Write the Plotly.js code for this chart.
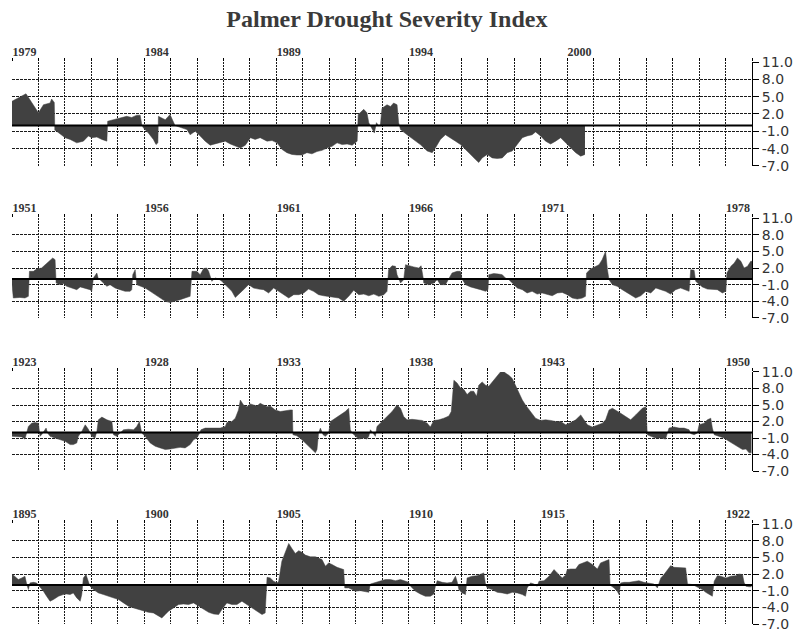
<!DOCTYPE html>
<html>
<head>
<meta charset="utf-8">
<script src="https://cdn.plot.ly/plotly-3.0.1.min.js"></script>
<style>html,body{margin:0;padding:0;background:#fff}</style>
</head>
<body>
<div id="chart" style="width:796px;height:633px"></div>
<script>
// Panel start years (each panel spans 28 years)
const startYears = [1979, 1951, 1923, 1895];

// Year labels per panel: [offset from start, label]
const labelOffsets = [
  [0, 5, 10, 15, 21],
  [0, 5, 10, 15, 20, 27],
  [0, 5, 10, 15, 20, 27],
  [0, 5, 10, 15, 20, 27]
];
const labelTexts = [
  ["1979", "1984", "1989", "1994", "2000"],
  ["1951", "1956", "1961", "1966", "1971", "1978"],
  ["1923", "1928", "1933", "1938", "1943", "1950"],
  ["1895", "1900", "1905", "1910", "1915", "1922"]
];

// Y ticks
const yTickVals = [11, 8, 5, 2, -1, -4, -7];
const yTickText = ["11.0", "8.0", "5.0", "2.0", "-1.0", "-4.0", "-7.0"];

// PDSI, 1979-2000: years since 1979, index value
const t1979 = [0.00,0.49,0.53,1.00,1.19,1.44,1.50,1.60,1.62,1.69,2.01,2.20,2.45,2.70,2.89,3.02,3.21,3.40,3.59,3.62,3.84,4.09,4.34,4.53,4.72,4.85,4.91,4.97,5.16,5.35,5.45,5.52,5.54,5.67,5.80,5.98,6.09,6.17,6.36,6.62,6.74,6.93,7.12,7.31,7.50,7.69,7.88,8.07,8.26,8.45,8.64,8.83,9.02,9.20,9.39,9.65,9.84,10.03,10.21,10.40,10.59,10.78,10.97,11.16,11.35,11.54,11.73,11.92,12.11,12.30,12.49,12.68,12.87,13.06,13.10,13.31,13.43,13.50,13.62,13.71,13.79,13.88,13.94,14.00,14.19,14.32,14.44,14.57,14.63,14.70,14.95,15.20,15.45,15.71,15.90,16.02,16.21,16.40,16.59,16.78,16.97,17.16,17.35,17.54,17.66,17.79,17.98,18.17,18.36,18.55,18.74,18.93,19.12,19.31,19.49,19.68,19.81,20.00,20.19,20.38,20.57,20.76,20.95,21.14,21.33,21.52,21.64,21.68];
const v1979 = [4.2,5.3,5.5,2.2,3.6,3.9,4.6,4.0,-0.8,-1.0,-2.1,-2.4,-3.0,-2.7,-1.8,-2.1,-2.0,-2.4,-2.7,0.75,1.0,1.3,1.6,1.4,1.8,1.8,0.2,-0.4,-1.3,-2.4,-3.3,-3.0,1.6,1.3,1.0,1.9,0.75,0.0,-0.3,-0.7,-1.6,-1.0,-1.8,-2.7,-3.4,-3.2,-3.0,-2.7,-3.2,-3.6,-3.9,-3.4,-2.1,-2.4,-2.1,-2.7,-2.6,-3.0,-4.1,-4.7,-5.0,-5.1,-5.1,-4.7,-4.9,-4.5,-4.3,-3.9,-3.6,-3.0,-3.3,-3.2,-3.4,-2.7,1.9,2.8,2.2,0.5,-0.7,-1.3,0.5,-0.1,0.2,3.0,3.6,3.3,3.9,3.6,0.5,-0.7,-1.6,-2.4,-3.3,-4.4,-4.7,-3.9,-2.4,-1.6,-2.1,-2.7,-3.3,-4.1,-5.0,-5.9,-6.4,-5.6,-5.0,-5.6,-5.7,-5.6,-4.7,-4.4,-3.3,-2.1,-1.8,-1.6,-1.1,-1.8,-2.7,-3.2,-2.7,-2.1,-3.0,-3.9,-4.7,-5.3,-5.0,-5.0];

// PDSI, 1951-1978
const t1951 = [0.00,0.05,0.30,0.49,0.62,0.66,0.81,0.93,1.12,1.25,1.38,1.54,1.63,1.67,1.82,1.94,2.07,2.26,2.45,2.58,2.77,2.95,3.02,3.08,3.21,3.27,3.33,3.46,3.59,3.71,3.90,4.09,4.28,4.47,4.53,4.57,4.66,4.72,4.85,5.04,5.23,5.42,5.61,5.80,5.98,6.17,6.36,6.55,6.74,6.81,6.99,7.12,7.25,7.37,7.44,7.56,7.69,7.82,7.94,8.13,8.32,8.45,8.57,8.76,8.95,9.14,9.33,9.52,9.71,9.90,10.09,10.28,10.47,10.66,10.85,11.04,11.22,11.41,11.60,11.79,11.98,12.17,12.36,12.55,12.74,12.93,13.12,13.31,13.50,13.69,13.88,14.07,14.19,14.25,14.38,14.51,14.57,14.70,14.82,14.89,15.01,15.20,15.39,15.48,15.56,15.58,15.77,15.96,16.09,16.21,16.40,16.53,16.65,16.84,16.97,17.03,17.16,17.35,17.54,17.73,17.92,18.01,18.04,18.23,18.42,18.55,18.67,18.80,18.93,19.12,19.31,19.49,19.68,19.87,20.06,20.25,20.44,20.63,20.82,21.01,21.20,21.39,21.58,21.70,21.74,21.89,22.08,22.21,22.33,22.46,22.53,22.59,22.72,22.90,23.09,23.28,23.47,23.60,23.79,23.98,24.17,24.36,24.55,24.73,24.92,25.11,25.30,25.49,25.62,25.68,25.81,25.87,26.00,26.12,26.31,26.50,26.69,26.88,27.01,27.05,27.20,27.33,27.45,27.58,27.70,27.83,27.95,28.00];
const v1951 = [-1.0,-3.4,-3.3,-3.4,-3.1,1.4,1.4,1.8,2.0,2.6,3.2,3.8,3.5,-0.7,-1.0,-0.8,-1.3,-1.6,-1.9,-1.4,-1.6,-1.9,-2.2,0.2,1.1,0.0,-0.1,-0.7,-1.3,-1.0,-1.6,-1.9,-2.2,-2.2,-1.9,0.8,1.7,-1.0,-1.3,-1.6,-2.2,-2.8,-3.4,-4.0,-4.2,-4.0,-3.7,-3.4,-3.1,1.4,1.4,0.8,1.9,2.0,1.4,-0.4,0.2,0.0,-0.4,-1.3,-2.2,-3.3,-2.8,-1.9,-1.0,-1.6,-1.8,-1.9,-2.5,-1.6,-2.2,-2.8,-3.4,-2.8,-2.8,-2.5,-1.8,-2.2,-2.8,-3.0,-3.1,-3.3,-3.4,-4.0,-3.1,-2.0,-2.8,-2.7,-3.0,-2.7,-3.1,-2.8,-2.2,1.7,2.4,2.3,0.8,-0.7,-0.1,2.6,2.4,2.2,2.0,2.4,0.2,-0.7,-1.0,-0.7,-0.1,-1.0,-1.0,0.2,1.1,1.4,1.4,0.0,-1.0,-1.4,-1.6,-1.9,-2.2,-1.9,0.8,1.0,0.9,0.8,0.2,-0.1,-0.7,-1.6,-1.9,-2.5,-2.2,-2.7,-2.5,-2.8,-3.0,-2.5,-2.4,-2.8,-3.4,-3.6,-3.4,-3.1,1.1,1.8,2.3,2.6,3.5,5.0,1.7,-0.1,-1.0,-1.3,-1.9,-2.5,-3.1,-3.4,-3.0,-2.2,-2.5,-1.6,-1.9,-2.2,-2.7,-1.9,-1.6,-1.9,-2.2,1.7,1.6,-0.4,-1.0,-1.4,-1.8,-1.9,-1.9,-2.5,-2.2,1.1,2.3,2.9,3.8,3.2,2.0,2.3,3.2,3.2];

// PDSI, 1923-1950
const t1923 = [0.00,0.18,0.37,0.49,0.56,0.62,0.74,0.87,1.00,1.06,1.12,1.19,1.29,1.35,1.44,1.63,1.82,2.01,2.20,2.32,2.45,2.51,2.64,2.77,2.89,3.02,3.14,3.21,3.27,3.40,3.59,3.78,3.84,3.96,4.09,4.22,4.41,4.60,4.72,4.82,4.91,5.04,5.23,5.42,5.61,5.80,5.98,6.17,6.36,6.55,6.74,6.87,6.99,7.10,7.15,7.31,7.50,7.69,7.88,8.07,8.13,8.32,8.45,8.57,8.64,8.76,8.89,9.02,9.14,9.27,9.39,9.52,9.65,9.77,9.96,10.15,10.34,10.53,10.61,10.63,10.78,10.97,11.16,11.35,11.48,11.54,11.60,11.67,11.77,11.86,11.98,12.05,12.23,12.42,12.61,12.74,12.80,12.87,12.99,13.12,13.31,13.43,13.50,13.56,13.66,13.75,13.81,14.00,14.19,14.38,14.57,14.70,14.82,14.95,15.14,15.33,15.52,15.71,15.83,15.96,16.15,16.34,16.53,16.62,16.72,16.84,16.97,17.10,17.22,17.35,17.47,17.58,17.66,17.79,17.92,18.04,18.23,18.42,18.55,18.67,18.80,18.93,19.05,19.18,19.31,19.43,19.62,19.81,20.00,20.19,20.38,20.57,20.76,20.95,21.14,21.33,21.52,21.64,21.77,21.96,22.15,22.34,22.46,22.59,22.72,22.84,23.03,23.22,23.41,23.60,23.72,23.85,23.98,24.04,24.17,24.36,24.55,24.73,24.80,24.86,25.05,25.24,25.43,25.62,25.68,25.81,25.93,26.00,26.19,26.31,26.44,26.50,26.57,26.76,26.94,27.13,27.32,27.51,27.64,27.77,27.89,27.98];
const v1923 = [-0.7,-0.7,-0.8,-1.2,0.0,1.1,1.7,1.8,1.7,-0.7,-0.4,0.2,0.8,-0.1,-0.7,-1.0,-1.3,-1.6,-2.2,-2.2,-1.9,-0.7,0.2,1.4,0.6,-0.7,-1.0,0.2,2.3,2.8,2.3,2.0,-0.4,-0.7,-0.1,0.5,0.6,0.5,1.1,2.0,-0.1,-0.7,-1.9,-2.5,-2.8,-3.1,-3.0,-2.8,-2.7,-2.8,-2.2,-1.3,-1.0,-0.1,0.5,0.8,0.8,0.9,0.8,1.1,1.8,2.0,2.6,4.1,5.9,5.0,4.7,5.2,5.0,4.8,5.3,5.0,4.7,4.8,4.1,3.8,4.0,4.1,4.1,-0.4,-0.6,-1.3,-2.2,-3.1,-3.7,-3.1,-0.1,0.8,-0.4,-0.7,-0.1,2.0,2.6,3.2,3.8,4.4,0.5,-0.1,-0.7,-1.2,-1.0,-1.2,-0.7,0.5,-0.1,-0.7,1.1,2.0,2.9,3.8,5.0,4.4,2.9,2.3,2.4,2.3,2.2,1.7,1.0,2.2,2.3,2.6,3.0,3.8,9.5,9.0,8.1,7.8,6.9,7.5,7.5,6.6,8.6,9.2,8.6,8.4,9.5,10.8,11.4,10.8,10.4,9.8,8.6,7.1,5.9,5.0,3.8,2.6,2.2,2.3,2.2,2.0,2.0,1.4,1.8,2.3,3.2,2.3,1.4,1.0,1.4,1.7,2.3,4.1,4.4,4.0,3.5,2.9,2.3,3.2,3.8,4.4,4.7,-0.4,-0.7,-1.0,-1.0,-1.2,-0.1,0.8,1.0,0.8,0.8,0.5,-0.2,-0.4,-0.1,1.4,1.7,2.3,2.6,0.8,-0.4,-0.7,-1.0,-1.6,-2.2,-2.8,-3.1,-3.0,-3.7,-3.7];

// PDSI, 1895-1922
const t1895 = [0.00,0.11,0.24,0.37,0.49,0.56,0.62,0.68,0.81,0.93,1.04,1.19,1.31,1.44,1.57,1.76,1.94,2.07,2.20,2.32,2.45,2.58,2.64,2.70,2.80,2.89,2.95,3.08,3.27,3.46,3.65,3.84,4.03,4.22,4.41,4.60,4.79,4.97,5.16,5.35,5.54,5.67,5.80,5.92,6.11,6.30,6.49,6.68,6.87,7.06,7.25,7.44,7.63,7.82,7.94,8.13,8.32,8.51,8.70,8.89,9.08,9.27,9.46,9.58,9.65,9.77,9.90,10.03,10.09,10.21,10.34,10.47,10.59,10.72,10.85,10.97,11.10,11.29,11.48,11.60,11.73,11.86,11.98,12.11,12.30,12.49,12.55,12.59,12.74,12.87,12.99,13.18,13.37,13.50,13.56,13.75,13.94,14.13,14.32,14.51,14.70,14.89,15.01,15.08,15.27,15.45,15.64,15.83,15.96,16.02,16.09,16.28,16.46,16.65,16.78,16.84,16.91,17.03,17.16,17.22,17.41,17.60,17.79,17.85,17.92,17.98,18.17,18.36,18.55,18.74,18.93,19.12,19.31,19.43,19.49,19.62,19.75,19.87,19.94,20.13,20.32,20.51,20.63,20.82,20.95,21.01,21.14,21.33,21.45,21.64,21.77,21.96,22.15,22.27,22.40,22.53,22.59,22.63,22.78,22.90,22.97,23.03,23.16,23.35,23.54,23.72,23.91,24.10,24.29,24.42,24.48,24.55,24.67,24.80,24.92,25.05,25.24,25.49,25.56,25.75,25.87,26.00,26.12,26.25,26.38,26.50,26.57,26.69,26.82,27.01,27.20,27.39,27.51,27.64,27.70,27.77,27.89,27.98];
const v1895 = [2.0,1.6,1.0,1.3,1.6,0.1,-0.8,0.4,0.5,0.4,-0.2,-1.1,-2.0,-2.9,-2.6,-2.0,-1.7,-1.6,-1.7,-1.4,-2.3,-2.9,-1.7,1.3,1.9,0.7,-0.2,-0.8,-1.4,-1.7,-2.0,-2.2,-2.6,-3.2,-3.8,-4.1,-4.4,-4.7,-4.9,-5.0,-5.6,-5.9,-5.3,-4.7,-4.1,-3.5,-3.4,-3.5,-3.2,-3.8,-4.4,-4.9,-5.2,-5.3,-4.4,-3.2,-3.5,-3.5,-2.9,-3.5,-4.1,-4.7,-5.3,-5.0,1.4,1.3,0.7,0.4,0.7,4.3,6.0,7.5,6.6,5.7,6.2,5.9,5.4,5.1,5.1,4.8,4.6,3.4,4.0,3.7,3.2,2.9,2.8,-0.5,-0.5,-0.8,-1.1,-1.0,-1.1,-1.3,0.2,0.5,0.8,1.0,1.0,0.8,1.0,0.7,0.5,-0.2,-1.1,-1.6,-2.0,-2.0,-1.6,-0.2,0.8,0.5,0.4,0.5,1.6,0.7,-0.8,-1.4,-1.7,1.3,1.6,1.7,2.0,2.2,0.1,-0.5,-0.8,-1.3,-1.4,-1.6,-1.3,-1.4,-1.7,-2.0,-0.5,0.4,0.2,-0.2,0.7,0.8,1.6,2.8,2.2,1.3,1.8,2.8,2.9,2.9,3.7,4.0,4.3,3.7,2.9,4.0,4.3,4.6,4.6,0.0,-0.5,-1.1,-1.7,0.4,0.5,0.5,0.7,0.8,0.5,0.4,0.2,-0.5,0.4,1.3,1.9,2.8,3.5,3.2,3.1,3.1,0.2,0.1,-0.2,-0.5,-0.8,-1.3,-1.7,-2.0,0.7,1.7,1.6,1.3,1.6,1.7,2.0,1.9,0.5,-0.2,-0.3,-0.3];

const offsets = [t1979, t1951, t1923, t1895];
const values = [v1979, v1951, v1923, v1895];

// Panel vertical domains (paper fraction)
const domains = [[0.815, 1.0], [0.5445, 0.7224], [0.2722, 0.4484], [0.0, 0.1779]];

const fillColor = '#414141';
const gridColor = '#1a1a1a';

const traces = [];
const layout = {
  width: 796, height: 633,
  paper_bgcolor: '#fff', plot_bgcolor: '#fff',
  showlegend: false,
  margin: {l: 12, r: 44, t: 62, b: 9},
  title: {
    text: 'Palmer Drought Severity Index',
    font: {family: 'Liberation Serif, serif', size: 24, weight: 'bold', color: '#3a3a3a'},
    xref: 'container', x: 0.486, xanchor: 'center',
    yref: 'container', y: 0.970, yanchor: 'middle'
  },
  shapes: []
};

for (let p = 0; p < 4; p++) {
  const n = p === 0 ? '' : String(p + 1);
  const s = startYears[p];
  const xs = offsets[p].map(o => s + o);
  traces.push({
    type: 'scatter', mode: 'lines',
    x: xs, y: values[p],
    xaxis: 'x' + n, yaxis: 'y' + n,
    fill: 'tozeroy', fillcolor: fillColor,
    line: {color: fillColor, width: 0.5},
    hoverinfo: 'skip'
  });
  const tv = [], tt = [];
  for (let k = 0; k <= 28; k++) {
    tv.push(s + k);
    const idx = labelOffsets[p].indexOf(k);
    tt.push(idx >= 0 ? labelTexts[p][idx] : '');
  }
  layout['xaxis' + n] = {
    anchor: 'y' + n, side: 'top',
    range: [s, s + 28],
    tickmode: 'array', tickvals: tv, ticktext: tt,
    ticks: 'outside', ticklen: 3, tickcolor: '#000', tickwidth: 1,
    ticklabelposition: 'outside right',
    tickfont: {family: 'Liberation Serif, serif', size: 12, weight: 'bold', color: '#333'},
    showgrid: true, gridcolor: gridColor, gridwidth: 1, griddash: '2px,1px',
    zeroline: false, showline: false, fixedrange: true
  };
  layout['yaxis' + n] = {
    anchor: 'x' + n, side: 'right',
    domain: domains[p],
    range: [-7, 11],
    tickmode: 'array', tickvals: yTickVals, ticktext: yTickText,
    ticks: 'outside', ticklen: 6, tickcolor: '#000', tickwidth: 1,
    tickfont: {family: 'DejaVu Sans, sans-serif', size: 14, color: '#333'},
    showgrid: true, gridcolor: gridColor, gridwidth: 1, griddash: '3px,1px',
    zeroline: false, showline: true, linecolor: '#000', linewidth: 1, mirror: false,
    fixedrange: true
  };
  layout.shapes.push({
    type: 'line', layer: 'above',
    xref: 'x' + n + ' domain', x0: 0, x1: 1,
    yref: 'y' + n, y0: 0, y1: 0,
    line: {color: '#000', width: 2}
  });
}

Plotly.newPlot('chart', traces, layout, {displayModeBar: false, staticPlot: true});
</script>
</body>
</html>
